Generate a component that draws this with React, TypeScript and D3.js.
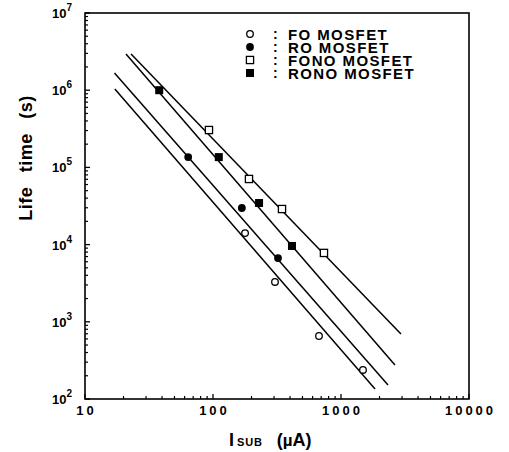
import * as d3 from 'd3';

// measured data (I_sub in uA, lifetime in s)
const foX = [178, 305, 673, 1485];
const foY = [14100, 3280, 655, 238];
const roX = [64, 168, 322];
const roY = [136000, 29800, 6700];
const fonoX = [93, 191, 346, 736];
const fonoY = [305000, 70800, 28900, 7800];
const ronoX = [38, 111, 229, 414];
const ronoY = [1000000, 136000, 34600, 9600];

// fitted lines, [start, end]
const fitFoX = [17.1, 1845];
const fitFoY = [1040000, 135];
const fitRoX = [17.0, 2330];
const fitRoY = [1670000, 152];
const fitRonoX = [20.9, 2640];
const fitRonoY = [2940000, 275];
const fitFonoX = [22.9, 2940];
const fitFonoY = [2940000, 695];

const xTicks = [10, 100, 1000, 10000];
const xTickLabels = ['10', '100', '1000', '10000'];
const yExps = [2, 3, 4, 5, 6, 7];
const legendLabels = ['FO MOSFET', 'RO MOSFET', 'FONO MOSFET', 'RONO MOSFET'];

const W = 509;
const H = 452;
const font = '"Liberation Sans", Arial, sans-serif';

export default function App() {
  const x = d3.scaleLog().domain([10, 10000]).range([85, 469]);
  const y = d3.scaleLog().domain([100, 1e7]).range([399, 13]);
  const [x0, x1] = x.range();
  const [y0, y1] = y.range();

  const minorX: number[] = [];
  for (let d = 10; d < 10000; d *= 10) for (let k = 2; k <= 9; k++) minorX.push(d * k);
  const minorY: number[] = [];
  for (let d = 100; d < 1e7; d *= 10) for (let k = 2; k <= 9; k++) minorY.push(d * k);

  const fits = [
    [fitFoX, fitFoY],
    [fitRoX, fitRoY],
    [fitRonoX, fitRonoY],
    [fitFonoX, fitFonoY],
  ];

  const marker = (kind: number, cx: number, cy: number, key: string) => {
    if (kind === 0) return <circle key={key} cx={cx} cy={cy} r={3.3} fill="#fff" stroke="#000" strokeWidth={1.3} />;
    if (kind === 1) return <circle key={key} cx={cx} cy={cy} r={3.9} fill="#000" />;
    if (kind === 2)
      return <rect key={key} x={cx - 3.6} y={cy - 3.6} width={7.2} height={7.2} fill="#fff" stroke="#000" strokeWidth={1.3} />;
    return <rect key={key} x={cx - 4} y={cy - 4} width={8} height={8} fill="#000" />;
  };

  const series = [
    [foX, foY],
    [roX, roY],
    [fonoX, fonoY],
    [ronoX, ronoY],
  ];

  return (
    <svg width={W} height={H} style={{ position: 'absolute', left: 0, top: 0, background: '#fff' }} fontFamily={font} fontWeight="bold">
      {/* frame */}
      <rect x={x0} y={y1} width={x1 - x0} height={y0 - y1} fill="none" stroke="#000" strokeWidth={1.6} />

      {/* x ticks */}
      {xTicks.map((t) => (
        <line key={'xt' + t} x1={x(t)} x2={x(t)} y1={y0} y2={y0 - 5} stroke="#000" strokeWidth={1.3} />
      ))}
      {minorX.map((t) => (
        <line key={'xm' + t} x1={x(t)} x2={x(t)} y1={y0} y2={y0 - 3} stroke="#000" strokeWidth={1.2} />
      ))}
      {xTicks.map((t, i) => (
        <text key={'xl' + t} x={x(t) + 1.5} y={415} fontSize={13} textAnchor="middle" letterSpacing={3}>
          {xTickLabels[i]}
        </text>
      ))}

      {/* y ticks */}
      {yExps.map((e) => (
        <line key={'yt' + e} x1={x0} x2={x0 + 5} y1={y(10 ** e)} y2={y(10 ** e)} stroke="#000" strokeWidth={1.3} />
      ))}
      {minorY.map((t) => (
        <line key={'ym' + t} x1={x0} x2={x0 + 3} y1={y(t)} y2={y(t)} stroke="#000" strokeWidth={1.2} />
      ))}
      {yExps.map((e) => (
        <text key={'yl' + e} x={52} y={y(10 ** e) + 5} fontSize={13}>
          10
          <tspan fontSize={10} dy={-7}>
            {e}
          </tspan>
        </text>
      ))}

      {/* fitted lines */}
      {fits.map(([fx, fy], i) => (
        <line key={'f' + i} x1={x(fx[0])} y1={y(fy[0])} x2={x(fx[1])} y2={y(fy[1])} stroke="#000" strokeWidth={1.5} />
      ))}

      {/* points */}
      {series.map(([sx, sy], k) => sx.map((v, i) => marker(k, x(v), y(sy[i]), `p${k}-${i}`)))}

      {/* legend */}
      {legendLabels.map((lab, i) => {
        const ly = 34 + i * 13;
        return (
          <g key={'lg' + i}>
            {marker(i, 250, ly, 'lm' + i)}
            <text x={273} y={ly + 5} fontSize={14}>:</text>
            <text x={288} y={ly + 5.5} fontSize={15} letterSpacing={1.4}>
              {lab}
            </text>
          </g>
        );
      })}

      {/* axis titles */}
      <text x={229} y={446} fontSize={18}>
        I
        <tspan fontSize={11} dx={3} letterSpacing={0.8}>SUB</tspan>
        <tspan fontSize={18} dx={14}>(</tspan>
        <tspan fontSize={17}>µ</tspan>
        <tspan fontSize={18}>A)</tspan>
      </text>
      <text
        transform="translate(32,158) rotate(-90)"
        fontSize={18}
        textAnchor="middle"
        letterSpacing={0.5}
        wordSpacing={9}
      >
        Life time (s)
      </text>
    </svg>
  );
}
